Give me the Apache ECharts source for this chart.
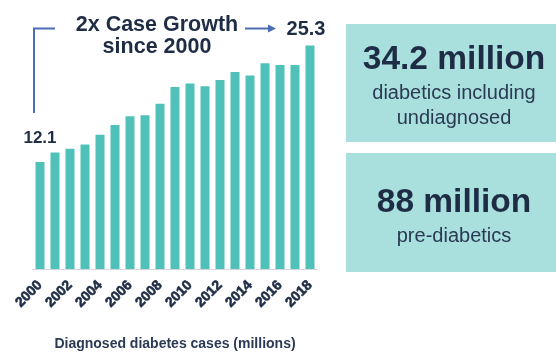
<!DOCTYPE html>
<html>
<head>
<meta charset="utf-8">
<script src="https://cdn.jsdelivr.net/npm/echarts@6/dist/echarts.min.js"></script>
<style>
html, body { margin: 0; padding: 0; background: #fff; }
#main { width: 556px; height: 356px; }
</style>
</head>
<body>
<div id="main"></div>
<script>
// 数据
var years = ['2000', '2001', '2002', '2003', '2004', '2005', '2006', '2007', '2008', '2009',
	'2010', '2011', '2012', '2013', '2014', '2015', '2016', '2017', '2018'];
var cases = [12.1, 13.2, 13.6, 14.1, 15.2, 16.3, 17.3, 17.4, 18.7, 20.6,
	21.0, 20.7, 21.4, 22.3, 21.9, 23.3, 23.1, 23.1, 25.3];
var titleLines = ['2x Case Growth', 'since 2000'];
var axisName = 'Diagnosed diabetes cases (millions)';
var boxBig = ['34.2 million', '88 million'];
var boxSmall = [['diabetics including', 'undiagnosed'], ['pre-diabetics']];

var navy = '#1e2d45';
var teal = '#4fc1b9';
var boxColor = '#a9dfdc';
var blue = '#4a6db3';

var myChart = echarts.init(document.getElementById('main'));

var barData = [];
for (var i in cases) {
	var item = { value : cases[i] };
	if (i == 0) {
		item.label = { show : true, position : 'top', distance : 15, fontSize : 17,
			fontWeight : 'bold', color : navy };
	}
	if (i == cases.length - 1) {
		item.label = { show : true, position : 'top', distance : 6, fontSize : 20,
			fontWeight : 'bold', color : navy, offset : [-4, 0] };
	}
	barData.push(item);
}

var option = {
	animation : false,
	title : {
		text : titleLines.join('\n'),
		left : 152,
		top : 9,
		textAlign : 'center',
		textStyle : {
			fontFamily : 'Liberation Sans',
			fontSize : 21.5,
			fontWeight : 'bold',
			color : navy,
			lineHeight : 22
		}
	},
	grid : {
		left : 32.5,
		right : 238.5,
		top : 4,
		bottom : 81
	},
	xAxis : {
		type : 'category',
		data : years,
		name : axisName,
		nameLocation : 'middle',
		nameGap : 68,
		nameTextStyle : {
			fontFamily : 'Liberation Sans',
			fontSize : 14,
			fontWeight : 'bold',
			color : '#2a3a55'
		},
		axisLine : { lineStyle : { color : '#d4d8dc', width : 1 } },
		axisTick : { show : false },
		axisLabel : {
			interval : 1,
			rotate : 45,
			margin : 14,
			fontFamily : 'Liberation Sans',
			fontSize : 14,
			fontWeight : 'bold',
			color : navy,
			textBorderColor : navy,
			textBorderWidth : 0.6
		}
	},
	yAxis : {
		type : 'value',
		min : 0,
		max : 30,
		show : false,
		splitLine : { show : false }
	},
	series : [ {
		type : 'bar',
		data : barData,
		barWidth : 9,
		itemStyle : { color : teal },
		label : { fontFamily : 'Liberation Sans' }
	} ]
};
myChart.setOption(option);

// 注释和右侧方框
var p0 = myChart.convertToPixel({ seriesIndex : 0 }, [0, cases[0]]);
var pN = myChart.convertToPixel({ seriesIndex : 0 }, [cases.length - 1, cases[cases.length - 1]]);
var topY = pN[1] - 17;
var graphics = [
	{ type : 'polyline', shape : { points : [[p0[0] - 6, p0[1] - 49], [p0[0] - 6, topY], [p0[0] + 15, topY]] },
		style : { stroke : blue, lineWidth : 2, fill : null } },
	{ type : 'line', shape : { x1 : pN[0] - 65, y1 : topY, x2 : pN[0] - 40, y2 : topY },
		style : { stroke : blue, lineWidth : 2 } },
	{ type : 'polygon', shape : { points : [[pN[0] - 42, topY - 4], [pN[0] - 34, topY], [pN[0] - 42, topY + 4]] },
		style : { fill : blue } }
];
var boxes = [ { y : 24, h : 118, cy : 60 }, { y : 153, h : 119, cy : 203 } ];
for (var b in boxes) {
	graphics.push({ type : 'rect', shape : { x : 346, y : boxes[b].y, width : 210, height : boxes[b].h },
		style : { fill : boxColor } });
	graphics.push({ type : 'text', x : 454, y : boxes[b].cy,
		style : { text : boxBig[b], fontFamily : 'Liberation Sans', fontSize : 33.5, fontWeight : 'bold',
			fill : navy, align : 'center', verticalAlign : 'middle' } });
	var lines = boxSmall[b];
	for (var k in lines) {
		graphics.push({ type : 'text', x : 454, y : boxes[b].cy + 33 + k * 25,
			style : { text : lines[k], fontFamily : 'Liberation Sans', fontSize : 20,
				fill : '#2a3a55', align : 'center', verticalAlign : 'middle' } });
	}
}
myChart.setOption({ graphic : graphics });
</script>
</body>
</html>
